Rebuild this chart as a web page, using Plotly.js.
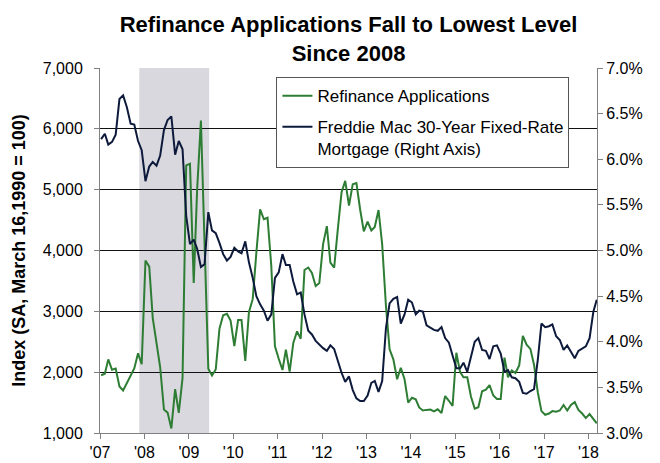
<!DOCTYPE html>
<html><head><meta charset="utf-8">
<script src="https://cdn.plot.ly/plotly-3.0.1.min.js"></script>
<style>html,body{margin:0;padding:0;background:#fff}#chart{width:660px;height:463px}</style>
</head><body><div id="chart"></div>
<script>
// Monthly observations, Jan 2007 .. Mar 2018
const startYear = 2007;
const refinanceApplications = [
 1950,1975,2210,2040,2060,1765,1700,1820,1950,2060,2310,2130,
 3835,3735,2890,2440,2080,1385,1335,1075,1720,1330,1905,5400,
 5425,3465,5000,6135,4100,2055,1945,2045,2720,2935,2960,2850,
 2430,2857,2857,2185,2985,3200,3964,4677,4513,4539,3745,2425,
 2220,2035,2370,2010,2480,2670,2550,3680,3720,3630,3416,3465,
 4105,4400,3800,3717,4348,4958,5145,4740,5090,5110,4670,4315,
 4475,4330,4385,4666,4100,3087,2376,2211,1883,2073,1883,1498,
 1580,1553,1420,1370,1380,1385,1355,1390,1330,1608,1530,1444,
 2320,2000,1915,1915,1600,1400,1425,1685,1712,1786,1616,1558,
 1558,2238,1917,2028,1986,2109,2596,2452,2383,2123,1670,1360,
 1300,1320,1360,1350,1370,1460,1370,1460,1510,1380,1320,1245,
 1310,1230,1160];
const mortgageRate = [
 6.22,6.28,6.16,6.19,6.27,6.66,6.70,6.57,6.39,6.38,6.20,6.10,
 5.76,5.92,5.97,5.93,6.04,6.32,6.43,6.47,6.05,6.20,6.11,5.38,
 5.07,5.12,5.02,4.82,4.85,5.42,5.22,5.19,5.08,4.96,4.89,4.93,
 5.03,4.99,4.97,5.10,4.87,4.70,4.50,4.41,4.34,4.23,4.30,4.70,
 4.76,4.96,4.84,4.84,4.66,4.52,4.54,4.30,4.12,4.08,4.01,3.97,
 3.93,3.90,3.96,3.92,3.79,3.66,3.56,3.62,3.47,3.38,3.35,3.35,
 3.41,3.55,3.57,3.45,3.57,4.15,4.42,4.47,4.49,4.20,4.30,4.46,
 4.43,4.30,4.34,4.33,4.18,4.15,4.13,4.12,4.16,4.04,3.99,3.85,
 3.71,3.71,3.77,3.67,3.85,4.00,4.04,3.91,3.90,3.81,3.95,3.96,
 3.87,3.67,3.69,3.61,3.60,3.56,3.44,3.43,3.46,3.48,3.80,4.20,
 4.16,4.17,4.19,4.06,4.02,3.91,3.96,3.89,3.82,3.90,3.93,3.95,
 4.04,4.33,4.46];
const yearTickDates = ['2007-01-01','2008-01-01','2009-01-01','2010-01-01','2011-01-01','2012-01-01',
 '2013-01-01','2014-01-01','2015-01-01','2016-01-01','2017-01-01','2018-01-01'];
const yearTickLabels = ["'07","'08","'09","'10","'11","'12","'13","'14","'15","'16","'17","'18"];
const recessionPeriod = ['2007-11-20','2009-06-17'];
const seriesNames = ['Refinance Applications','Freddie Mac 30-Year Fixed-Rate<br>Mortgage (Right Axis)'];
const chartTitle = '<b>Refinance Applications Fall to Lowest Level<br>Since 2008</b>';
const leftAxisTitle = '<b>Index (SA, March 16,1990 = 100)</b>';

function monthDate(i){
  const y = startYear + Math.floor(i/12);
  const m = (i % 12) + 1;
  return y + '-' + String(m).padStart(2,'0') + '-10';
}
const dates = refinanceApplications.map((_, i) => monthDate(i));

const F = 'Liberation Sans, Arial, Helvetica, sans-serif';
const green = '#2e7d34';
const navy = '#0d1a3b';

const traces = [
  {x: dates, y: refinanceApplications, type:'scatter', mode:'lines', name: seriesNames[0],
   line:{color:green, width:2}, yaxis:'y', legendgroup:'a'},
  {x: dates, y: mortgageRate, type:'scatter', mode:'lines', name: seriesNames[1],
   line:{color:navy, width:2}, yaxis:'y2', legendgroup:'b'}
];

const layout = {
  width:660, height:463,
  margin:{l:100, r:63, t:68, b:30},
  paper_bgcolor:'#fff', plot_bgcolor:'#fff',
  font:{family:F, size:16, color:'#000'},
  title:{text: chartTitle, font:{family:F, size:22, color:'#000'}, x:0.5, xref:'paper', xanchor:'center',
         y:0.93, yref:'container', yanchor:'top', automargin:false},
  xaxis:{type:'date', range:['2007-01-01','2018-03-12'], tickmode:'array', tickvals: yearTickDates, ticktext: yearTickLabels,
         ticks:'outside', ticklen:5, tickcolor:'#808080', showline:true, linecolor:'#808080', linewidth:1,
         showgrid:false, zeroline:false, tickfont:{size:16}},
  yaxis:{range:[1000,7000], tick0:1000, dtick:1000, tickformat:',d', ticks:'outside', ticklen:5, tickcolor:'#808080',
         showline:true, linecolor:'#808080', linewidth:1, showgrid:true, gridcolor:'#111', gridwidth:1, zeroline:false,
         tickfont:{size:16}, ticklabelstandoff:8,
         title:{text: leftAxisTitle, font:{family:F, size:18, color:'#000'}, standoff:12}},
  yaxis2:{overlaying:'y', side:'right', range:[3,7], tick0:3, dtick:0.5, tickformat:'.1f', ticksuffix:'%',
          ticks:'outside', ticklen:5, tickcolor:'#808080', showline:true, linecolor:'#808080', linewidth:1,
          showgrid:false, zeroline:false, tickfont:{size:16}},
  shapes:[{type:'rect', xref:'x', yref:'paper', x0: recessionPeriod[0], x1: recessionPeriod[1], y0:0, y1:1,
           fillcolor:'#d9d8de', line:{width:0}, layer:'between'}],
  showlegend:true,
  legend:{x:0.355, y:0.975, xanchor:'left', yanchor:'top', bgcolor:'#fff', bordercolor:'#555', borderwidth:1,
          font:{family:F, size:17, color:'#000'}, traceorder:'grouped', tracegroupgap:6, valign:'top', itemwidth:30}
};

Plotly.newPlot('chart', traces, layout, {displayModeBar:false, staticPlot:true});
</script>
</body></html>
